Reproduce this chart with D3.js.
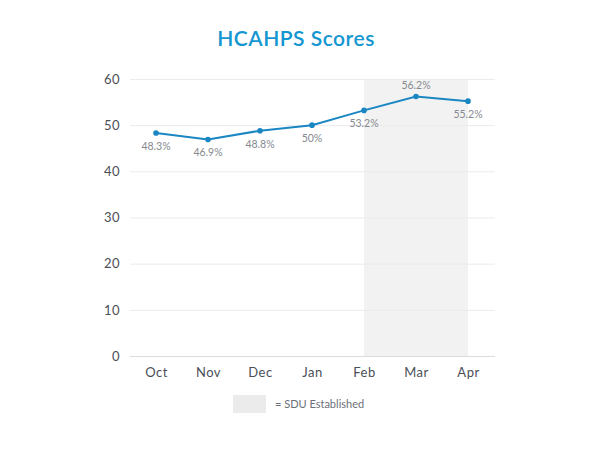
<!DOCTYPE html>
<html>
<head>
<meta charset="utf-8">
<script src="https://cdn.jsdelivr.net/npm/d3@7"></script>
<style>
  body { margin: 0; background: #fff; }
  text { font-family: "Lato", "Open Sans", sans-serif; }
</style>
</head>
<body>
<script>
const months = ["Oct", "Nov", "Dec", "Jan", "Feb", "Mar", "Apr"];
const scores = [48.3, 46.9, 48.8, 50, 53.2, 56.2, 55.2];
const labels = ["48.3%", "46.9%", "48.8%", "50%", "53.2%", "56.2%", "55.2%"];
const labelAbove = [false, false, false, false, false, true, false];
const yTicks = [0, 10, 20, 30, 40, 50, 60];
const sduMonths = ["Feb", "Apr"];

const w = 600;
const h = 450;

const svg = d3.select("body").append("svg").attr("width", w).attr("height", h);

const x = d3.scalePoint().domain(months).range([156, 468]);
const y = d3.scaleLinear().domain([0, 60]).range([356, 79]);

// shaded SDU band
svg.append("rect")
  .attr("x", x(sduMonths[0]))
  .attr("y", y(60))
  .attr("width", x(sduMonths[1]) - x(sduMonths[0]))
  .attr("height", y(0) - y(60))
  .attr("fill", "#f2f2f2");

// grid + y axis
const yAxis = d3.axisLeft(y).tickValues(yTicks).tickSize(-(495 - 130)).tickPadding(10);
const gy = svg.append("g").attr("transform", "translate(130,0)").call(yAxis);
gy.select(".domain").remove();
gy.selectAll(".tick line").attr("stroke", "#ebebeb");
gy.select(".tick:first-of-type line").attr("stroke", "#dcdcdc");
gy.selectAll(".tick text")
  .attr("fill", "#4a4f57")
  .attr("font-size", 13)
  .style("letter-spacing", "0.5px");

// x axis
const xAxis = d3.axisBottom(x).tickSize(0).tickPadding(12);
const gx = svg.append("g").attr("transform", `translate(0,${y(0)})`).call(xAxis);
gx.select(".domain").remove();
gx.selectAll(".tick text")
  .attr("fill", "#4a4f57")
  .attr("font-size", 13)
  .style("letter-spacing", "0.5px");

// line
const line = d3.line().x((d, i) => x(months[i])).y((d) => y(d));
svg.append("path")
  .datum(scores)
  .attr("d", line)
  .attr("fill", "none")
  .attr("stroke", "#1a87c3")
  .attr("stroke-width", 2);

svg.selectAll("circle")
  .data(scores)
  .enter()
  .append("circle")
  .attr("cx", (d, i) => x(months[i]))
  .attr("cy", (d) => y(d))
  .attr("r", 2.8)
  .attr("fill", "#1a87c3");

svg.selectAll(".val")
  .data(scores)
  .enter()
  .append("text")
  .attr("class", "val")
  .attr("x", (d, i) => x(months[i]))
  .attr("y", (d, i) => labelAbove[i] ? y(d) - 8 : y(d) + 17)
  .attr("text-anchor", "middle")
  .attr("font-size", 10.5)
  .attr("fill", "#858a91")
  .text((d, i) => labels[i]);

// title
svg.append("text")
  .attr("x", 296)
  .attr("y", 46)
  .attr("text-anchor", "middle")
  .attr("font-size", 21)
  .attr("font-weight", 600)
  .attr("fill", "#1496d0")
  .style("letter-spacing", "0.5px")
  .text("HCAHPS Scores");

// legend
svg.append("rect")
  .attr("x", 233).attr("y", 395)
  .attr("width", 33).attr("height", 18)
  .attr("fill", "#ebebeb");
svg.append("text")
  .attr("x", 275).attr("y", 408)
  .attr("font-size", 11)
  .attr("fill", "#6b7078")
  .text("= SDU Established");
</script>
</body>
</html>
